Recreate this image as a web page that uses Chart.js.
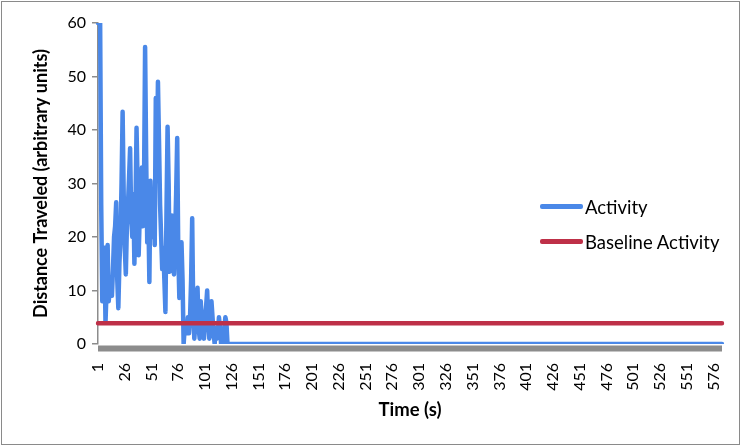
<!DOCTYPE html>
<html>
<head>
<meta charset="utf-8">
<script src="https://cdn.jsdelivr.net/npm/chart.js@4.4.1/dist/chart.umd.min.js"></script>
<style>
  html, body { margin: 0; padding: 0; background: #fff; }
  #wrap { position: relative; width: 745px; height: 448px; }
  #legend { position: absolute; left: 540px; top: 189px; font-family: Lato, "Open Sans", sans-serif; font-size: 18.5px; color: #000; }
  .li { display: flex; align-items: center; height: 35px; }
  .sw { width: 43px; height: 5px; border-radius: 2px; margin-right: 2px; }
</style>
</head>
<body>
<div id="wrap">
<canvas id="c" width="745" height="448"></canvas>
<div id="legend">
  <div class="li"><span class="sw" style="background:#4a88e8"></span><span>Activity</span></div>
  <div class="li"><span class="sw" style="background:#be3048"></span><span>Baseline Activity</span></div>
</div>
</div>
<script>
// ---- data ----
const activityEarly = [
  60, 60, 60, 26, 8, 15, 18, 4, 10, 18.5,
  8, 10, 11, 9, 14, 20, 22, 26.5, 12, 6.7,
  15, 20, 30, 43.4, 28, 18, 13, 22, 26, 31,
  36.6, 24, 20, 28, 15, 25, 40.4, 30, 16.6, 24,
  28, 33, 22, 30, 55.5, 35, 19, 25, 11.6, 30.5,
  24, 20, 28, 18.5, 46, 32, 49, 38, 26, 20,
  14, 18, 12, 6, 25, 40.6, 30, 13.5, 20, 24,
  18, 13, 20, 28, 38.5, 17, 8.6, 13, 19, 12,
  0, 3, 4, 2, 5, 2, 5, 12, 23.5, 6,
  1, 4, 7, 10.5, 3, 1, 8, 4, 2, 1,
  5, 7, 10, 4, 1, 3, 8, 5, 2, 0,
  3, 1, 2, 5, 3, 0, 0, 0, 3, 5,
  4, 0
];
const totalPoints = 584;
const baselineValue = 3.9;
const categories = [];
for (let i = 1; i <= totalPoints; i++) categories.push(String(i));
const activity = categories.map((c, i) => i < activityEarly.length ? activityEarly[i] : 0);
const baseline = categories.map(() => baselineValue);
const yTicks = [0, 10, 20, 30, 40, 50, 60];

const FONT = 'Lato, "Open Sans", sans-serif';

const frame = {
  id: 'frame',
  beforeDatasetsDraw(chart) {
    const ctx = chart.ctx, x = chart.scales.x, y = chart.scales.y;
    const y0 = y.getPixelForValue(0);
    ctx.save();
    ctx.fillStyle = '#8c8c8c';
    ctx.fillRect(x.left, y0 + 1.5, x.right - x.left, 6);
    ctx.restore();
  },
  afterDraw(chart) {
    const ctx = chart.ctx;
    ctx.save();
    ctx.strokeStyle = '#8a8a8a';
    ctx.lineWidth = 1;
    ctx.strokeRect(1.5, 1.5, 738, 443);
    ctx.restore();
  }
};

new Chart(document.getElementById('c'), {
  type: 'line',
  data: {
    labels: categories,
    datasets: [
      { label: 'Activity', data: activity, borderColor: '#4a88e8', backgroundColor: '#4a88e8', borderWidth: 4.5, pointRadius: 0, tension: 0, borderJoinStyle: 'round', borderCapStyle: 'round', order: 2 },
      { label: 'Baseline Activity', data: baseline, borderColor: '#be3048', backgroundColor: '#be3048', borderWidth: 4.5, pointRadius: 0, tension: 0, borderCapStyle: 'round', order: 1 }
    ]
  },
  options: {
    responsive: false,
    animation: false,
    layout: { padding: { left: 26, right: 23, top: 23, bottom: 27 } },
    plugins: { legend: { display: false }, tooltip: { enabled: false } },
    scales: {
      x: {
        type: 'category',
        offset: false,
        afterFit: (s) => { s.height = 77; s.paddingRight = 0; s.paddingLeft = 0; },
        grid: { display: false, drawTicks: false },
        border: { display: false },
        ticks: {
          autoSkip: false, minRotation: 90, maxRotation: 90, padding: 19,
          color: '#000', font: { family: FONT, size: 16 },
          callback: function(v, i) { return (i % 25 === 0) ? this.getLabelForValue(v) : null; }
        },
        title: { display: true, text: 'Time (s)', color: '#000', font: { family: FONT, size: 18.5, weight: 'bold' }, padding: { top: 0, bottom: 0 } }
      },
      y: {
        min: 0, max: 60,
        afterBuildTicks: (s) => { s.ticks = yTicks.map(v => ({ value: v })); },
        afterFit: (s) => { s.width = 72; },
        grid: { display: true, drawOnChartArea: false, drawTicks: true, tickLength: 6, color: '#8c8c8c', lineWidth: 1.5 },
        border: { display: true, color: '#8c8c8c', width: 1.5 },
        ticks: { color: '#000', padding: 6, font: { family: FONT, size: 16 } },
        title: { display: true, text: 'Distance Traveled (arbitrary units)', color: '#000', font: { family: FONT, size: 18, weight: 'bold' }, padding: { top: 4, bottom: 4 } }
      }
    }
  },
  plugins: [frame]
});
</script>
</body>
</html>
